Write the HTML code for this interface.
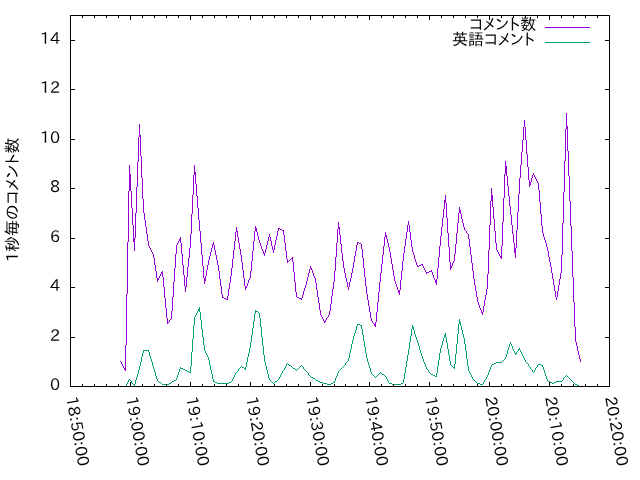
<!DOCTYPE html>
<html lang="ja"><head><meta charset="utf-8"><title>1秒毎のコメント数</title>
<style>
html,body{margin:0;padding:0;background:#fff}
body{width:640px;height:480px;overflow:hidden}
svg{display:block;will-change:transform}
.t text{font-family:"IPAPGothic","IPA Pゴシック","Liberation Sans","IPAGothic","Noto Sans CJK JP",sans-serif;font-size:16px}
</style></head><body>
<svg width="640" height="480" viewBox="0 0 640 480">
<rect width="640" height="480" fill="#fff"/>
<g fill="none" stroke-width="1" shape-rendering="crispEdges" stroke-linejoin="round">
<path stroke="#9400d3" d="M120.5 361v1M121.5 362v2M122.5 364v2M123.5 366v2M124.5 368v2M125.5 370v1M125.5 345v26M126.5 294v51M127.5 242v52M128.5 191v51M129.5 165v26M129.5 165v9M130.5 174v17M131.5 191v17M132.5 208v17M133.5 225v17M134.5 242v9M134.5 238v13M135.5 213v25M136.5 187v26M137.5 162v25M138.5 137v25M139.5 124v13M139.5 124v11M140.5 135v21M141.5 156v22M142.5 178v21M143.5 199v11M143.5 209v4M144.5 213v7M145.5 220v7M146.5 227v7M147.5 234v7M148.5 241v4M148.5 244v2M149.5 246v2M150.5 248v2M151.5 250v2M152.5 252v2M153.5 254v1M153.5 254v4M154.5 258v7M155.5 265v6M156.5 271v7M157.5 278v4M157.5 280v2M158.5 278v2M159.5 276v2M160.5 274v2M161.5 272v2M162.5 271v1M162.5 271v6M163.5 277v10M164.5 287v11M165.5 298v10M166.5 308v10M167.5 318v6M167.5 323v1M168.5 322v1M169.5 320v2M170.5 319v1M171.5 318v1M171.5 311v8M172.5 297v14M173.5 282v15M174.5 268v14M175.5 254v14M176.5 246v8M176.5 245v2M177.5 243v2M178.5 241v2M179.5 239v2M180.5 237v2M180.5 237v6M181.5 243v11M182.5 254v11M183.5 265v10M184.5 275v11M185.5 286v6M185.5 287v5M186.5 277v10M187.5 267v10M188.5 258v9M189.5 248v10M190.5 243v5M190.5 234v10M191.5 214v20M192.5 195v19M193.5 175v20M194.5 165v10M194.5 165v7M195.5 172v12M196.5 184v12M197.5 196v12M198.5 208v12M199.5 220v6M199.5 225v6M200.5 231v12M201.5 243v12M202.5 255v11M203.5 266v12M204.5 278v6M204.5 281v3M205.5 276v5M206.5 270v6M207.5 265v5M208.5 262v3M208.5 260v3M209.5 256v4M210.5 252v4M211.5 248v4M212.5 244v4M213.5 242v2M213.5 242v3M214.5 245v5M215.5 250v5M216.5 255v5M217.5 260v5M218.5 265v3M218.5 267v4M219.5 271v8M220.5 279v7M221.5 286v8M222.5 294v4M222 297.5h2M224 298.5h2M226 299.5h2M227.5 296v4M228.5 289v7M229.5 283v6M230.5 276v7M231.5 272v4M231.5 268v5M232.5 259v9M233.5 250v9M234.5 241v9M235.5 232v9M236.5 227v5M236.5 227v4M237.5 231v6M238.5 237v6M239.5 243v6M240.5 249v6M241.5 255v4M241.5 258v4M242.5 262v8M243.5 270v8M244.5 278v8M245.5 286v4M245.5 288v2M246.5 286v2M247.5 283v3M248.5 280v3M249.5 278v2M250.5 276v2M250.5 271v6M251.5 261v10M252.5 251v10M253.5 241v10M254.5 231v10M255.5 226v5M255.5 226v2M256.5 228v4M257.5 232v4M258.5 236v4M259.5 240v2M259.5 241v2M260.5 243v3M261.5 246v3M262.5 249v2M263.5 251v3M264.5 254v2M264.5 253v3M265.5 249v4M266.5 245v4M267.5 241v4M268.5 237v4M269.5 234v3M269.5 234v3M270.5 237v4M271.5 241v5M272.5 246v4M273.5 250v3M273.5 250v3M274.5 245v5M275.5 240v5M276.5 236v4M277.5 231v5M278.5 228v3M278 228.5h2M280 229.5h2M282 230.5h2M283.5 230v5M284.5 235v8M285.5 243v8M286.5 251v8M287.5 259v4M292 257.5h1M291 258.5h1M290 259.5h1M289 260.5h1M288 261.5h1M287 262.5h1M292.5 257v5M293.5 262v10M294.5 272v10M295.5 282v10M296.5 292v5M296 296.5h1M297 297.5h2M299 298.5h2M301 299.5h1M301.5 298v2M302.5 295v3M303.5 291v4M304.5 288v3M305.5 285v3M306.5 283v2M306.5 281v3M307.5 277v4M308.5 273v4M309.5 269v4M310.5 266v3M310.5 266v2M311.5 268v2M312.5 270v3M313.5 273v3M314.5 276v2M315.5 278v2M315.5 279v4M316.5 283v7M317.5 290v7M318.5 297v6M319.5 303v7M320.5 310v4M320.5 313v2M321.5 315v2M322.5 317v2M323.5 319v2M324.5 321v2M324.5 322v1M325.5 320v2M326.5 318v2M327.5 317v1M328.5 315v2M329.5 314v1M329.5 311v4M330.5 304v7M331.5 296v8M332.5 289v7M333.5 282v7M334.5 278v4M334.5 271v8M335.5 257v14M336.5 243v14M337.5 229v14M338.5 222v7M338.5 222v5M339.5 227v8M340.5 235v9M341.5 244v9M342.5 253v8M343.5 261v5M343.5 265v3M344.5 268v5M345.5 273v5M346.5 278v4M347.5 282v5M348.5 287v3M348.5 287v3M349.5 282v5M350.5 278v4M351.5 273v5M352.5 270v3M352.5 268v3M353.5 262v6M354.5 256v6M355.5 251v5M356.5 245v6M357.5 242v3M357 242.5h2M359 243.5h2M361 244.5h1M361.5 244v5M362.5 249v9M363.5 258v10M364.5 268v9M365.5 277v9M366.5 286v5M366.5 290v4M367.5 294v6M368.5 300v6M369.5 306v6M370.5 312v6M371.5 318v3M371.5 320v1M372.5 321v2M373.5 323v1M374.5 324v2M375.5 326v1M375.5 322v5M376.5 312v10M377.5 302v10M378.5 292v10M379.5 282v10M380.5 277v5M380.5 273v5M381.5 264v9M382.5 255v9M383.5 246v9M384.5 237v9M385.5 232v5M385.5 232v3M386.5 235v4M387.5 239v4M388.5 243v4M389.5 247v2M389.5 248v4M390.5 252v6M391.5 258v6M392.5 264v6M393.5 270v6M394.5 276v4M394.5 279v2M395.5 281v3M396.5 284v3M397.5 287v3M398.5 290v3M399.5 293v2M399.5 290v5M400.5 280v10M401.5 271v9M402.5 261v10M403.5 256v5M403.5 253v4M404.5 246v7M405.5 239v7M406.5 232v7M407.5 225v7M408.5 221v4M408.5 221v4M409.5 225v7M410.5 232v8M411.5 240v7M412.5 247v4M412.5 250v2M413.5 252v3M414.5 255v4M415.5 259v3M416.5 262v3M417.5 265v2M421 264.5h2M419 265.5h2M417 266.5h2M422.5 264v2M423.5 266v2M424.5 268v2M425.5 270v2M426.5 272v2M431 270.5h1M429 271.5h2M427 272.5h2M426 273.5h1M431.5 270v2M432.5 272v3M433.5 275v3M434.5 278v2M435.5 280v3M436.5 283v2M436.5 279v6M437.5 268v11M438.5 257v11M439.5 246v11M440.5 240v6M440.5 236v5M441.5 227v9M442.5 218v9M443.5 209v9M444.5 200v9M445.5 195v5M445.5 195v8M446.5 203v15M447.5 218v15M448.5 233v14M449.5 247v15M450.5 262v8M450.5 268v2M451.5 266v2M452.5 263v3M453.5 261v2M454.5 259v2M454.5 254v6M455.5 244v10M456.5 233v11M457.5 223v10M458.5 213v10M459.5 207v6M459.5 207v3M460.5 210v4M461.5 214v5M462.5 219v4M463.5 223v4M464.5 227v3M464.5 229v1M465.5 230v1M466.5 231v2M467.5 233v1M468.5 234v1M468.5 234v5M469.5 239v8M470.5 247v8M471.5 255v8M472.5 263v8M473.5 271v5M473.5 275v4M474.5 279v6M475.5 285v6M476.5 291v6M477.5 297v4M477.5 300v2M478.5 302v3M479.5 305v3M480.5 308v2M481.5 310v3M482.5 313v2M482.5 312v3M483.5 306v6M484.5 300v6M485.5 295v5M486.5 289v6M487.5 286v3M487.5 274v13M488.5 250v24M489.5 225v25M490.5 201v24M491.5 188v13M491.5 188v7M492.5 195v12M493.5 207v12M494.5 219v12M495.5 231v12M496.5 243v6M496.5 248v2M497.5 250v2M498.5 252v2M499.5 254v2M500.5 256v2M501.5 258v1M501.5 246v13M502.5 222v24M503.5 198v24M504.5 174v24M505.5 161v13M505.5 161v5M506.5 166v10M507.5 176v10M508.5 186v10M509.5 196v10M510.5 206v5M510.5 210v5M511.5 215v10M512.5 225v9M513.5 234v9M514.5 243v10M515.5 253v5M515.5 248v10M516.5 230v18M517.5 212v18M518.5 194v18M519.5 184v10M519.5 178v7M520.5 165v13M521.5 152v13M522.5 140v12M523.5 127v13M524.5 120v7M524.5 120v7M525.5 127v13M526.5 140v14M527.5 154v13M528.5 167v13M529.5 180v7M529.5 185v2M530.5 182v3M531.5 178v4M532.5 175v3M533.5 173v2M533.5 173v2M534.5 175v2M535.5 177v2M536.5 179v2M537.5 181v2M538.5 183v1M538.5 183v7M539.5 190v12M540.5 202v12M541.5 214v12M542.5 226v6M542.5 231v2M543.5 233v4M544.5 237v3M545.5 240v3M546.5 243v4M547.5 247v2M547.5 248v3M548.5 251v6M549.5 257v5M550.5 262v5M551.5 267v6M552.5 273v3M552.5 275v4M553.5 279v6M554.5 285v6M555.5 291v6M556.5 297v3M556.5 297v3M557.5 291v6M558.5 285v6M559.5 279v6M560.5 273v6M561.5 270v3M561.5 255v16M562.5 223v32M563.5 192v31M564.5 161v31M565.5 129v32M566.5 113v16M566.5 113v13M567.5 126v25M568.5 151v25M569.5 176v25M570.5 201v13M570.5 213v13M571.5 226v25M572.5 251v26M573.5 277v25M574.5 302v25M575.5 327v13M575.5 339v3M576.5 342v4M577.5 346v5M578.5 351v4M579.5 355v4M580.5 359v3"/>
<path stroke="#009e73" d="M120 386.5h6M125.5 386v1M126.5 384v2M127.5 382v2M128.5 380v2M129.5 379v1M129.5 379v1M130.5 380v1M131.5 381v2M132.5 383v1M133.5 384v1M134.5 385v1M134.5 384v2M135.5 380v4M136.5 377v3M137.5 374v3M138.5 370v4M139.5 368v2M139.5 366v3M140.5 362v4M141.5 357v5M142.5 353v4M143.5 350v3M143 350.5h6M148.5 350v2M149.5 352v4M150.5 356v3M151.5 359v3M152.5 362v4M153.5 366v2M153.5 367v2M154.5 369v3M155.5 372v4M156.5 376v3M157.5 379v2M157 380.5h1M158 381.5h1M159 382.5h2M161 383.5h1M162 384.5h1M162 384.5h6M171 382.5h1M169 383.5h2M167 384.5h2M176 379.5h1M174 380.5h2M172 381.5h2M171 382.5h1M176.5 378v2M177.5 375v3M178.5 372v3M179.5 369v3M180.5 367v2M180 367.5h1M181 368.5h2M183 369.5h2M185 370.5h1M185 370.5h2M187 371.5h2M189 372.5h2M190.5 366v7M191.5 352v14M192.5 339v13M193.5 325v14M194.5 318v7M194.5 317v2M195.5 315v2M196.5 313v2M197.5 311v2M198.5 309v2M199.5 307v2M199.5 307v5M200.5 312v8M201.5 320v9M202.5 329v8M203.5 337v8M204.5 345v5M204.5 349v2M205.5 351v2M206.5 353v2M207.5 355v2M208.5 357v1M208.5 357v3M209.5 360v5M210.5 365v5M211.5 370v4M212.5 374v5M213.5 379v3M213 381.5h2M215 382.5h2M217 383.5h2M218 383.5h5M222 383.5h6M231 381.5h1M229 382.5h2M227 383.5h2M231.5 381v1M232.5 379v2M233.5 377v2M234.5 375v2M235.5 373v2M236.5 372v1M236.5 372v1M237.5 371v1M238.5 369v2M239.5 368v1M240.5 367v1M241.5 366v1M241 366.5h1M242 367.5h2M244 368.5h1M245 369.5h1M245.5 367v3M246.5 362v5M247.5 357v5M248.5 353v4M249.5 348v5M250.5 345v3M250.5 342v4M251.5 335v7M252.5 328v7M253.5 321v7M254.5 314v7M255.5 310v4M255 310.5h1M256 311.5h2M258 312.5h1M259 313.5h1M259.5 313v5M260.5 318v9M261.5 327v10M262.5 337v9M263.5 346v9M264.5 355v5M264.5 359v3M265.5 362v4M266.5 366v4M267.5 370v4M268.5 374v4M269.5 378v2M269 379.5h1M270 380.5h1M271 381.5h1M272 382.5h1M273 383.5h1M278 379.5h1M277 380.5h1M275 381.5h2M274 382.5h1M273 383.5h1M278.5 379v1M279.5 377v2M280.5 375v2M281.5 373v2M282.5 371v2M283.5 370v1M283.5 370v1M284.5 368v2M285.5 366v2M286.5 364v2M287.5 363v1M287 363.5h1M288 364.5h1M289 365.5h2M291 366.5h1M292 367.5h1M292 367.5h1M293 368.5h2M295 369.5h1M296 370.5h1M301 365.5h1M300 366.5h1M299 367.5h1M298 368.5h1M297 369.5h1M296 370.5h1M301.5 365v1M302.5 366v1M303.5 367v2M304.5 369v1M305.5 370v1M306.5 371v1M306.5 371v1M307.5 372v1M308.5 373v2M309.5 375v1M310.5 376v1M310 376.5h1M311 377.5h2M313 378.5h2M315 379.5h1M315 379.5h1M316 380.5h2M318 381.5h2M320 382.5h1M320 382.5h3M323 383.5h2M324 383.5h3M327 384.5h3M333 382.5h2M331 383.5h2M329 384.5h2M334.5 381v2M335.5 378v3M336.5 376v2M337.5 373v3M338.5 371v2M343 366.5h1M342 367.5h1M341 368.5h1M340 369.5h1M339 370.5h1M338 371.5h1M343.5 366v1M344.5 365v1M345.5 363v2M346.5 362v1M347.5 361v1M348.5 360v1M348.5 358v3M349.5 353v5M350.5 349v4M351.5 344v5M352.5 341v3M352.5 340v2M353.5 336v4M354.5 333v3M355.5 330v3M356.5 326v4M357.5 324v2M357 324.5h3M360 325.5h2M361.5 325v4M362.5 329v6M363.5 335v6M364.5 341v6M365.5 347v6M366.5 353v4M366.5 356v2M367.5 358v4M368.5 362v3M369.5 365v3M370.5 368v4M371.5 372v2M371 373.5h1M372 374.5h1M373 375.5h1M374 376.5h1M375 377.5h1M380 372.5h1M379 373.5h1M378 374.5h1M377 375.5h1M376 376.5h1M375 377.5h1M380 372.5h1M381 373.5h1M382 374.5h2M384 375.5h1M385 376.5h1M385.5 376v1M386.5 377v2M387.5 379v2M388.5 381v2M389.5 383v1M389 383.5h3M392 384.5h3M394 384.5h6M403 382.5h1M401 383.5h2M399 384.5h2M403.5 379v4M404.5 373v6M405.5 367v6M406.5 361v6M407.5 355v6M408.5 352v3M408.5 349v4M409.5 342v7M410.5 336v6M411.5 329v7M412.5 325v4M412.5 325v2M413.5 327v3M414.5 330v4M415.5 334v3M416.5 337v3M417.5 340v2M417.5 341v2M418.5 343v3M419.5 346v4M420.5 350v3M421.5 353v3M422.5 356v2M422.5 357v2M423.5 359v3M424.5 362v2M425.5 364v3M426.5 367v2M426.5 368v1M427.5 369v1M428.5 370v2M429.5 372v1M430.5 373v1M431.5 374v1M431 374.5h2M433 375.5h2M435 376.5h2M436.5 373v4M437.5 366v7M438.5 360v6M439.5 353v7M440.5 349v4M440.5 348v2M441.5 345v3M442.5 341v4M443.5 338v3M444.5 335v3M445.5 333v2M445.5 333v4M446.5 337v6M447.5 343v6M448.5 349v6M449.5 355v6M450.5 361v4M450 364.5h1M451 365.5h1M452 366.5h1M453 367.5h1M454 368.5h1M454.5 364v5M455.5 354v10M456.5 344v10M457.5 334v10M458.5 324v10M459.5 319v5M459.5 319v3M460.5 322v4M461.5 326v4M462.5 330v4M463.5 334v4M464.5 338v3M464.5 340v4M465.5 344v7M466.5 351v8M467.5 359v7M468.5 366v4M468.5 369v2M469.5 371v2M470.5 373v2M471.5 375v2M472.5 377v2M473.5 379v1M473 379.5h1M474 380.5h1M475 381.5h1M476 382.5h1M477 383.5h1M477 383.5h3M480 384.5h3M482.5 384v1M483.5 382v2M484.5 380v2M485.5 379v1M486.5 377v2M487.5 376v1M487.5 375v2M488.5 372v3M489.5 370v2M490.5 367v3M491.5 365v2M496 362.5h1M494 363.5h2M492 364.5h2M491 365.5h1M496 362.5h6M505 358.5h1M504 359.5h1M503 360.5h1M502 361.5h1M501 362.5h1M505.5 357v2M506.5 354v3M507.5 350v4M508.5 347v3M509.5 344v3M510.5 342v2M510.5 342v2M511.5 344v2M512.5 346v3M513.5 349v2M514.5 351v2M515.5 353v2M515.5 354v1M516.5 352v2M517.5 351v1M518.5 349v2M519.5 348v1M519.5 348v2M520.5 350v2M521.5 352v2M522.5 354v2M523.5 356v2M524.5 358v2M524.5 359v1M525.5 360v2M526.5 362v1M527.5 363v1M528.5 364v2M529.5 366v1M529.5 366v1M530.5 367v2M531.5 369v1M532.5 370v2M533.5 372v1M533.5 372v1M534.5 370v2M535.5 368v2M536.5 367v1M537.5 365v2M538.5 364v1M538 364.5h3M541 365.5h2M542.5 365v2M543.5 367v3M544.5 370v3M545.5 373v3M546.5 376v3M547.5 379v2M547 380.5h1M548 381.5h2M550 382.5h2M552 383.5h1M556 381.5h1M554 382.5h2M552 383.5h2M556 381.5h6M561.5 381v1M562.5 380v1M563.5 378v2M564.5 377v1M565.5 376v1M566.5 375v1M566 375.5h1M567 376.5h1M568 377.5h1M569 378.5h1M570 379.5h1M570 379.5h1M571 380.5h1M572 381.5h1M573 382.5h1M574 383.5h1M575 384.5h1M575 384.5h2M577 385.5h2M579 386.5h2"/>
<path stroke="#9400d3" d="M545,27.5H590"/>
<path stroke="#009e73" d="M545,42.5H590"/>
</g>
<g fill="none" stroke="#000" stroke-width="1" shape-rendering="crispEdges">
<path d="M70.5,386.5v-4.5M70.5,15.5v4.5M82.5,386.5v-2.5M82.5,15.5v2.5M94.5,386.5v-2.5M94.5,15.5v2.5M106.5,386.5v-2.5M106.5,15.5v2.5M118.5,386.5v-2.5M118.5,15.5v2.5M130.5,386.5v-4.5M130.5,15.5v4.5M142.5,386.5v-2.5M142.5,15.5v2.5M154.5,386.5v-2.5M154.5,15.5v2.5M166.5,386.5v-2.5M166.5,15.5v2.5M178.5,386.5v-2.5M178.5,15.5v2.5M190.5,386.5v-4.5M190.5,15.5v4.5M202.5,386.5v-2.5M202.5,15.5v2.5M214.5,386.5v-2.5M214.5,15.5v2.5M226.5,386.5v-2.5M226.5,15.5v2.5M238.5,386.5v-2.5M238.5,15.5v2.5M250.5,386.5v-4.5M250.5,15.5v4.5M262.5,386.5v-2.5M262.5,15.5v2.5M274.5,386.5v-2.5M274.5,15.5v2.5M286.5,386.5v-2.5M286.5,15.5v2.5M298.5,386.5v-2.5M298.5,15.5v2.5M310.5,386.5v-4.5M310.5,15.5v4.5M322.5,386.5v-2.5M322.5,15.5v2.5M334.5,386.5v-2.5M334.5,15.5v2.5M345.5,386.5v-2.5M345.5,15.5v2.5M357.5,386.5v-2.5M357.5,15.5v2.5M369.5,386.5v-4.5M369.5,15.5v4.5M381.5,386.5v-2.5M381.5,15.5v2.5M393.5,386.5v-2.5M393.5,15.5v2.5M405.5,386.5v-2.5M405.5,15.5v2.5M417.5,386.5v-2.5M417.5,15.5v2.5M429.5,386.5v-4.5M429.5,15.5v4.5M441.5,386.5v-2.5M441.5,15.5v2.5M453.5,386.5v-2.5M453.5,15.5v2.5M465.5,386.5v-2.5M465.5,15.5v2.5M477.5,386.5v-2.5M477.5,15.5v2.5M489.5,386.5v-4.5M489.5,15.5v4.5M501.5,386.5v-2.5M501.5,15.5v2.5M513.5,386.5v-2.5M513.5,15.5v2.5M525.5,386.5v-2.5M525.5,15.5v2.5M537.5,386.5v-2.5M537.5,15.5v2.5M549.5,386.5v-4.5M549.5,15.5v4.5M561.5,386.5v-2.5M561.5,15.5v2.5M573.5,386.5v-2.5M573.5,15.5v2.5M585.5,386.5v-2.5M585.5,15.5v2.5M597.5,386.5v-2.5M597.5,15.5v2.5M609.5,386.5v-4.5M609.5,15.5v4.5M70.5,386.5h4.5M609.5,386.5h-4.5M70.5,337.5h4.5M609.5,337.5h-4.5M70.5,287.5h4.5M609.5,287.5h-4.5M70.5,238.5h4.5M609.5,238.5h-4.5M70.5,188.5h4.5M609.5,188.5h-4.5M70.5,139.5h4.5M609.5,139.5h-4.5M70.5,89.5h4.5M609.5,89.5h-4.5M70.5,40.5h4.5M609.5,40.5h-4.5"/>
<rect x="70.5" y="15.5" width="539" height="371"/>
</g>
<g class="t" fill="#000">
<text x="50.02" y="390.4">0</text>
<text x="50.02" y="341.4">2</text>
<text x="50.02" y="291.4">4</text>
<text x="50.02" y="242.4">6</text>
<text x="50.02" y="192.4">8</text>
<text x="39.94 50.02" y="143.4">10</text>
<text x="39.94 50.02" y="93.4">12</text>
<text x="39.94 50.02" y="44.4">14</text>
<text transform="translate(66.0,397.4) rotate(80)" x="0 10.08 20.16 25.27 35.34 45.42 50.55 60.62" y="0">18:50:00</text>
<text transform="translate(126.0,397.4) rotate(80)" x="0 10.08 20.16 25.27 35.34 45.42 50.55 60.62" y="0">19:00:00</text>
<text transform="translate(186.0,397.4) rotate(80)" x="0 10.08 20.16 25.27 35.34 45.42 50.55 60.62" y="0">19:10:00</text>
<text transform="translate(246.0,397.4) rotate(80)" x="0 10.08 20.16 25.27 35.34 45.42 50.55 60.62" y="0">19:20:00</text>
<text transform="translate(306.0,397.4) rotate(80)" x="0 10.08 20.16 25.27 35.34 45.42 50.55 60.62" y="0">19:30:00</text>
<text transform="translate(365.0,397.4) rotate(80)" x="0 10.08 20.16 25.27 35.34 45.42 50.55 60.62" y="0">19:40:00</text>
<text transform="translate(425.0,397.4) rotate(80)" x="0 10.08 20.16 25.27 35.34 45.42 50.55 60.62" y="0">19:50:00</text>
<text transform="translate(485.0,397.4) rotate(80)" x="0 10.08 20.16 25.27 35.34 45.42 50.55 60.62" y="0">20:00:00</text>
<text transform="translate(545.0,397.4) rotate(80)" x="0 10.08 20.16 25.27 35.34 45.42 50.55 60.62" y="0">20:10:00</text>
<text transform="translate(605.0,397.4) rotate(80)" x="0 10.08 20.16 25.27 35.34 45.42 50.55 60.62" y="0">20:20:00</text>
<text x="469.25 482.85 495.17 508.92 520.28" y="30.1">コメント数</text>
<text x="452.05 468.05 484.05 497.65 509.97 523.72" y="45.0">英語コメント</text>
<text transform="translate(18,199.8) rotate(-90)" x="-62.32 -52.24 -36.24 -20.24 -4.73 8.88 21.2 34.96 46.32" y="0">1秒毎のコメント数</text>
</g>
</svg>
</body></html>
